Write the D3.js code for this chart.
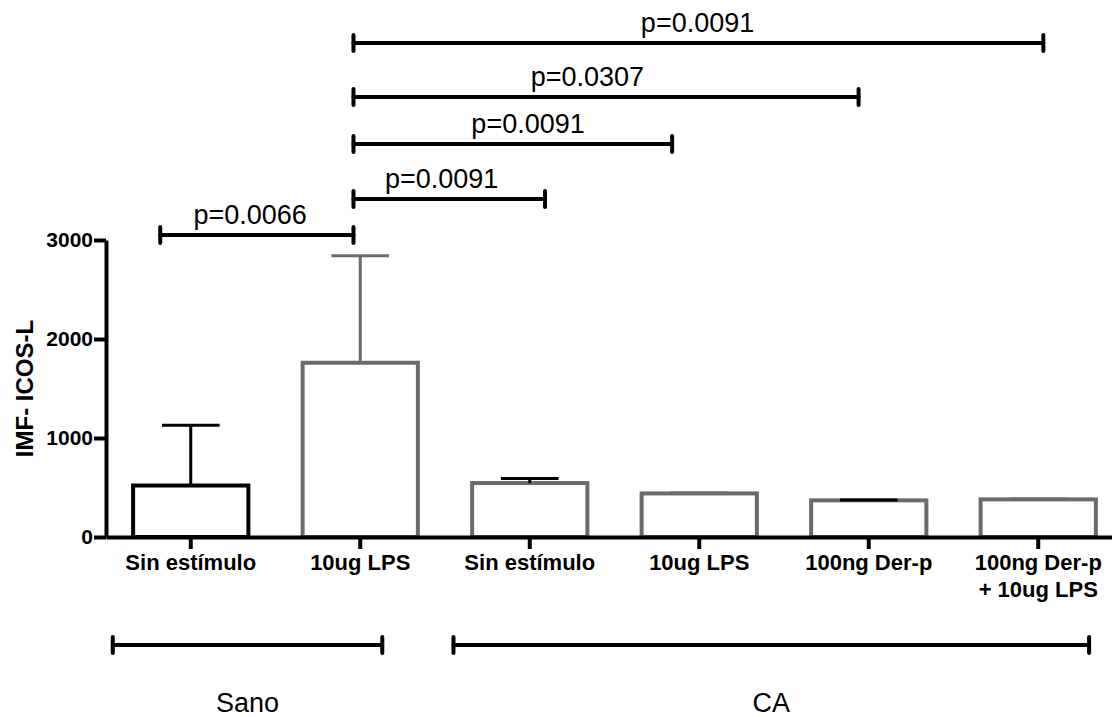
<!DOCTYPE html>
<html>
<head>
<meta charset="utf-8">
<script src="https://cdn.jsdelivr.net/npm/d3@7"></script>
<style>
  body { margin: 0; background: #fff; }
  text { font-family: "Liberation Sans", Arial, sans-serif; }
</style>
</head>
<body>
<script>
// data
const categories = ["Sin estímulo", "10ug LPS", "Sin estímulo", "10ug LPS", "100ng Der-p", "100ng Der-p\n+ 10ug LPS"];
const means = [520, 1760, 545, 440, 370, 380];
const errTops = [1130, 2840, 590, 445, 375, 385];
const barColors = ["#000", "#6b6b6b", "#6b6b6b", "#6b6b6b", "#6b6b6b", "#6b6b6b"];
const capColors = ["#000", "#6b6b6b", "#000", "#6b6b6b", "#000", "#6b6b6b"];
const yTicks = [0, 1000, 2000, 3000];

// significance brackets: from/to in category positions, level in y units
const pLabels = ["p=0.0066", "p=0.0091", "p=0.0091", "p=0.0307", "p=0.0091"];
const pFrom = [-0.18, 0.96, 0.96, 0.96, 0.96];
const pTo = [0.96, 2.09, 2.84, 3.94, 5.03];
const pLevel = [3050, 3415, 3970, 4445, 4990];
const pLabelAt = [0.35, 1.48, 1.99, 2.34, 2.99];

// groups under the axis
const groups = ["Sano", "CA"];
const groupFrom = [-0.46, 1.55];
const groupTo = [1.13, 5.3];

const width = 1112, height = 717;
const svg = d3.select("body")
    .append("svg")
    .attr("width", width)
    .attr("height", height);

const x = d3.scaleBand()
    .domain(d3.range(categories.length))
    .range([106, 1123])
    .paddingInner(0.32)
    .paddingOuter(0.16);

const y = d3.scaleLinear()
    .domain([0, 3000])
    .range([537, 240]);

// category position -> pixel (center of band)
const pos = d3.scaleLinear()
    .domain([0, 1])
    .range([x(0) + x.bandwidth() / 2, x(1) + x.bandwidth() / 2]);

// bars
svg.append("g")
    .selectAll("rect")
    .data(means)
    .join("rect")
    .attr("x", (d, i) => x(i))
    .attr("y", d => y(d))
    .attr("width", x.bandwidth())
    .attr("height", d => y(0) - y(d))
    .attr("fill", "none")
    .attr("stroke", (d, i) => barColors[i])
    .attr("stroke-width", 4);

// upper error bars
const err = svg.append("g");
err.selectAll("line.stem")
    .data(errTops)
    .join("line")
    .attr("class", "stem")
    .attr("x1", (d, i) => pos(i))
    .attr("x2", (d, i) => pos(i))
    .attr("y1", (d, i) => y(means[i]))
    .attr("y2", d => y(d))
    .attr("stroke", (d, i) => capColors[i])
    .attr("stroke-width", 3);
err.selectAll("line.cap")
    .data(errTops)
    .join("line")
    .attr("class", "cap")
    .attr("x1", (d, i) => pos(i) - x.bandwidth() / 4)
    .attr("x2", (d, i) => pos(i) + x.bandwidth() / 4)
    .attr("y1", d => y(d))
    .attr("y2", d => y(d))
    .attr("stroke", (d, i) => capColors[i])
    .attr("stroke-width", 3);

// y axis
const yAxis = svg.append("g")
    .attr("transform", `translate(${x.range()[0]},0)`)
    .call(d3.axisLeft(y).tickValues(yTicks).tickFormat(d3.format("d"))
        .tickSize(12).tickSizeOuter(0).tickPadding(1));
yAxis.select(".domain").attr("stroke-width", 4);
yAxis.selectAll(".tick line").attr("stroke-width", 4);
yAxis.selectAll(".tick text")
    .attr("font-size", 21)
    .attr("font-weight", "bold")
    .attr("fill", "#000")
    .style("font-family", "'Liberation Sans', Arial, sans-serif");

// x axis
const xAxis = svg.append("g")
    .attr("transform", `translate(0,${y(0)})`)
    .call(d3.axisBottom(x).tickSize(12).tickSizeOuter(0).tickFormat(() => ""));
xAxis.select(".domain").attr("stroke-width", 4);
xAxis.selectAll(".tick line").attr("stroke-width", 4);
xAxis.selectAll(".tick text").remove();

// category labels (may be two lines)
svg.append("g")
    .selectAll("text")
    .data(categories)
    .join("text")
    .attr("x", (d, i) => pos(i))
    .attr("y", y(0) + 33)
    .attr("text-anchor", "middle")
    .attr("font-size", 22)
    .attr("font-weight", "bold")
    .each(function(d) {
        d.split("\n").forEach((line, k) => {
            d3.select(this).append("tspan")
                .attr("x", d3.select(this).attr("x"))
                .attr("dy", k === 0 ? 0 : 27)
                .text(line);
        });
    });

// y axis title
svg.append("text")
    .attr("transform", `translate(33,${(y(0) + y(3000)) / 2}) rotate(-90)`)
    .attr("text-anchor", "middle")
    .attr("font-size", 24)
    .attr("font-weight", "bold")
    .text("IMF- ICOS-L");

// significance brackets
const br = svg.append("g")
    .attr("stroke", "#000")
    .attr("stroke-width", 4)
    .attr("stroke-linecap", "round");
pLabels.forEach((lab, i) => {
    const x1 = pos(pFrom[i]), x2 = pos(pTo[i]), yy = y(pLevel[i]);
    br.append("line").attr("x1", x1).attr("x2", x2).attr("y1", yy).attr("y2", yy);
    br.append("line").attr("x1", x1).attr("x2", x1).attr("y1", yy - 8).attr("y2", yy + 8);
    br.append("line").attr("x1", x2).attr("x2", x2).attr("y1", yy - 8).attr("y2", yy + 8);
    svg.append("text")
        .attr("x", pos(pLabelAt[i]))
        .attr("y", yy - 11)
        .attr("text-anchor", "middle")
        .attr("font-size", 27)
        .text(lab);
});

// group brackets below the chart
const groupY = 645;
groups.forEach((g, i) => {
    const x1 = pos(groupFrom[i]), x2 = pos(groupTo[i]);
    br.append("line").attr("x1", x1).attr("x2", x2).attr("y1", groupY).attr("y2", groupY);
    br.append("line").attr("x1", x1).attr("x2", x1).attr("y1", groupY - 8).attr("y2", groupY + 8);
    br.append("line").attr("x1", x2).attr("x2", x2).attr("y1", groupY - 8).attr("y2", groupY + 8);
    svg.append("text")
        .attr("x", (x1 + x2) / 2)
        .attr("y", groupY + 67)
        .attr("text-anchor", "middle")
        .attr("font-size", 27)
        .text(g);
});
</script>
</body>
</html>
